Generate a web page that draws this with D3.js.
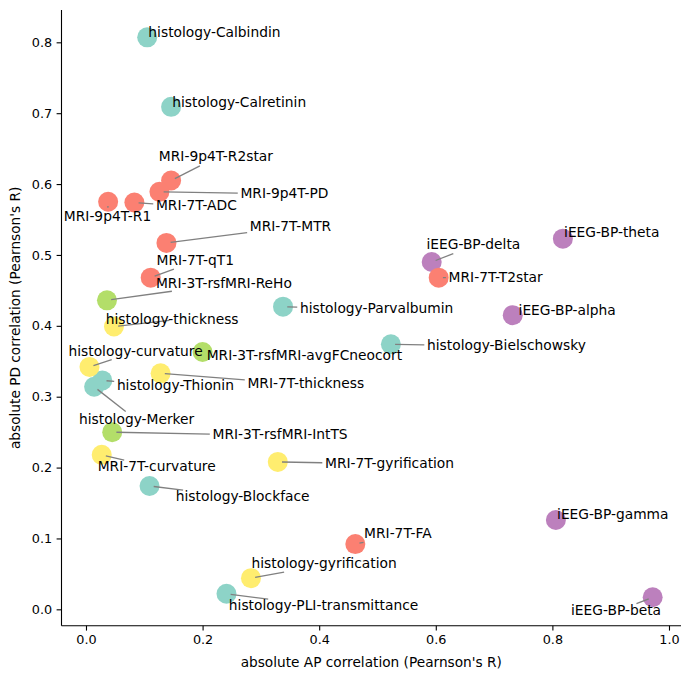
<!DOCTYPE html>
<html>
<head>
<meta charset="utf-8">
<script src="https://cdn.jsdelivr.net/npm/d3@7"></script>
<style>
  body { margin: 0; background: #fff; }
  svg { display: block; font-family: "DejaVu Sans", sans-serif; }
</style>
</head>
<body>
<svg id="plt0" width="691" height="679"></svg>
<script>
'use strict';

// Data
const names = [
  'histology-Calbindin', 'histology-Calretinin', 'histology-Parvalbumin', 'histology-Bielschowsky',
  'histology-Thionin', 'histology-Merker', 'histology-Blockface', 'histology-PLI-transmittance',
  'iEEG-BP-delta', 'iEEG-BP-theta', 'iEEG-BP-alpha', 'iEEG-BP-gamma', 'iEEG-BP-beta',
  'MRI-9p4T-R2star', 'MRI-9p4T-PD', 'MRI-7T-ADC', 'MRI-9p4T-R1', 'MRI-7T-MTR', 'MRI-7T-qT1',
  'MRI-7T-T2star', 'MRI-7T-FA',
  'MRI-3T-rsfMRI-ReHo', 'MRI-3T-rsfMRI-avgFCneocort', 'MRI-3T-rsfMRI-IntTS',
  'histology-thickness', 'histology-curvature', 'MRI-7T-thickness', 'MRI-7T-curvature',
  'MRI-7T-gyrification', 'histology-gyrification'
];
const apCorr = [
  0.105, 0.146, 0.338, 0.523,
  0.028, 0.014, 0.109, 0.241,
  0.593, 0.818, 0.732, 0.806, 0.972,
  0.146, 0.126, 0.083, 0.038, 0.138, 0.111,
  0.605, 0.462,
  0.036, 0.200, 0.045,
  0.048, 0.006, 0.128, 0.027,
  0.329, 0.283
];
const pdCorr = [
  0.807, 0.709, 0.427, 0.374,
  0.323, 0.314, 0.174, 0.022,
  0.490, 0.523, 0.415, 0.126, 0.017,
  0.605, 0.589, 0.574, 0.575, 0.517, 0.468,
  0.468, 0.092,
  0.436, 0.363, 0.250,
  0.399, 0.342, 0.333, 0.218,
  0.208, 0.044
];
const groups = [
  'hist', 'hist', 'hist', 'hist', 'hist', 'hist', 'hist', 'hist',
  'ieeg', 'ieeg', 'ieeg', 'ieeg', 'ieeg',
  'mri', 'mri', 'mri', 'mri', 'mri', 'mri', 'mri', 'mri',
  'rsf', 'rsf', 'rsf',
  'morph', 'morph', 'morph', 'morph', 'morph', 'morph'
];
// where the labels ended up (data units, left / baseline)
const labelX = [
  0.107, 0.148, 0.367, 0.585,
  0.053, -0.012, 0.154, 0.245,
  0.584, 0.820, 0.742, 0.808, 0.832,
  0.125, 0.265, 0.120, -0.038, 0.281, 0.121,
  0.622, 0.477,
  0.120, 0.207, 0.217,
  0.034, -0.030, 0.277, 0.020,
  0.410, 0.284
];
const labelY = [
  0.807, 0.709, 0.418, 0.366,
  0.309, 0.262, 0.153, -0.001,
  0.508, 0.525, 0.415, 0.127, -0.008,
  0.632, 0.581, 0.563, 0.548, 0.534, 0.486,
  0.462, 0.100,
  0.454, 0.352, 0.240,
  0.403, 0.358, 0.312, 0.195,
  0.200, 0.058
];
const xTicks = [0, 0.2, 0.4, 0.6, 0.8, 1.0];
const yTicks = [0, 0.1, 0.2, 0.3, 0.4, 0.5, 0.6, 0.7, 0.8];

const groupColor = {
  hist: '#8dd3c7', ieeg: '#bc80bd', mri: '#fb8072', rsf: '#b3de69', morph: '#ffed6f'
};

let data = names.map(function (n, i) {
  return {name: n, x: apCorr[i], y: pdCorr[i], g: groups[i], lx: labelX[i], ly: labelY[i]};
});

// Frame setup
let mLeft = 61.5, mRight = 681, mTop = 10, mBottom = 625.7;
let svg = d3.select('#plt0');
let xMap = d3.scaleLinear().domain([-0.042, 1.0206]).range([mLeft, mRight]);
let yMap = d3.scaleLinear().domain([-0.0231, 0.8456]).range([mBottom, mTop]);

// Axes
let xAxis = d3.axisBottom(xMap).tickValues(xTicks).tickFormat(d3.format('.1f'))
  .tickSizeInner(4.9).tickSizeOuter(0).tickPadding(4.5);
let yAxis = d3.axisLeft(yMap).tickValues(yTicks).tickFormat(d3.format('.1f'))
  .tickSizeInner(4.9).tickSizeOuter(0).tickPadding(4.5);

let gx = svg.append('g').attr('transform', 'translate(0,' + mBottom + ')').call(xAxis);
let gy = svg.append('g').attr('transform', 'translate(' + mLeft + ',0)').call(yAxis);
[gx, gy].forEach(function (g) {
  g.attr('font-family', '"DejaVu Sans", sans-serif').attr('font-size', 12.8);
  g.selectAll('text').attr('fill', '#000');
  g.selectAll('line').attr('stroke', '#000').attr('stroke-width', 1.1);
  g.select('.domain').attr('stroke', '#000').attr('stroke-width', 1.1);
});
gx.select('.domain').attr('d', 'M' + mLeft + ',0H' + mRight);
gy.select('.domain').attr('d', 'M0,' + mTop + 'V' + mBottom);

// Axis labels
svg.append('text')
  .attr('x', (mLeft + mRight) / 2).attr('y', 667)
  .attr('text-anchor', 'middle').attr('font-size', 13.7)
  .text("absolute AP correlation (Pearnson's R)");
svg.append('text')
  .attr('transform', 'translate(20,' + ((mTop + mBottom) / 2) + ') rotate(-90)')
  .attr('text-anchor', 'middle').attr('font-size', 13.7)
  .text("absolute PD correlation (Pearnson's R)");

// Points (drawn group by group)
let drawOrder = ['hist', 'ieeg', 'mri', 'rsf', 'morph'];
let sorted = data.slice().sort(function (a, b) {
  return drawOrder.indexOf(a.g) - drawOrder.indexOf(b.g);
});
svg.append('g').selectAll('circle')
  .data(sorted).enter().append('circle')
  .attr('cx', d => xMap(d.x)).attr('cy', d => yMap(d.y))
  .attr('r', 10)
  .attr('fill', d => groupColor[d.g]);

// Labels
let fs = 13.8;
let arrows = svg.append('g');
let labels = svg.append('g').selectAll('text')
  .data(data).enter().append('text')
  .attr('x', d => xMap(d.lx)).attr('y', d => yMap(d.ly))
  .attr('font-size', fs).attr('fill', '#000')
  .text(d => d.name);

// Connector lines: from text centre to the point, clipped by the text box
let shrinkA = 2.7, shrinkB = 4.2;
labels.each(function (d) {
  let tx = xMap(d.lx), ty = yMap(d.ly);
  let px = xMap(d.x), py = yMap(d.y);
  if (Math.hypot(px - tx, py - ty) < 5) return; // label not moved, no line
  let w = this.getComputedTextLength();
  let x0 = tx, x1 = tx + w;
  let y0 = ty - 0.76 * fs, y1 = ty + 0.24 * fs;
  let cx = (x0 + x1) / 2, cy = (y0 + y1) / 2;
  let dx = px - cx, dy = py - cy;
  let len0 = Math.hypot(dx, dy);
  let sx = cx, sy = cy;
  let inside = px > x0 && px < x1 && py > y0 && py < y1;
  if (!inside) {
    let t = 1;
    if (dx !== 0) t = Math.min(t, Math.max((x0 - cx) / dx, (x1 - cx) / dx));
    if (dy !== 0) t = Math.min(t, Math.max((y0 - cy) / dy, (y1 - cy) / dy));
    sx = cx + dx * t; sy = cy + dy * t;
  }
  let len = Math.hypot(px - sx, py - sy);
  if (len <= shrinkA + shrinkB) return;
  let ux = dx / len0, uy = dy / len0;
  arrows.append('line')
    .attr('x1', sx + ux * shrinkA).attr('y1', sy + uy * shrinkA)
    .attr('x2', px - ux * shrinkB).attr('y2', py - uy * shrinkB)
    .attr('stroke', '#808080').attr('stroke-width', 1.3);
});
</script>
</body>
</html>
